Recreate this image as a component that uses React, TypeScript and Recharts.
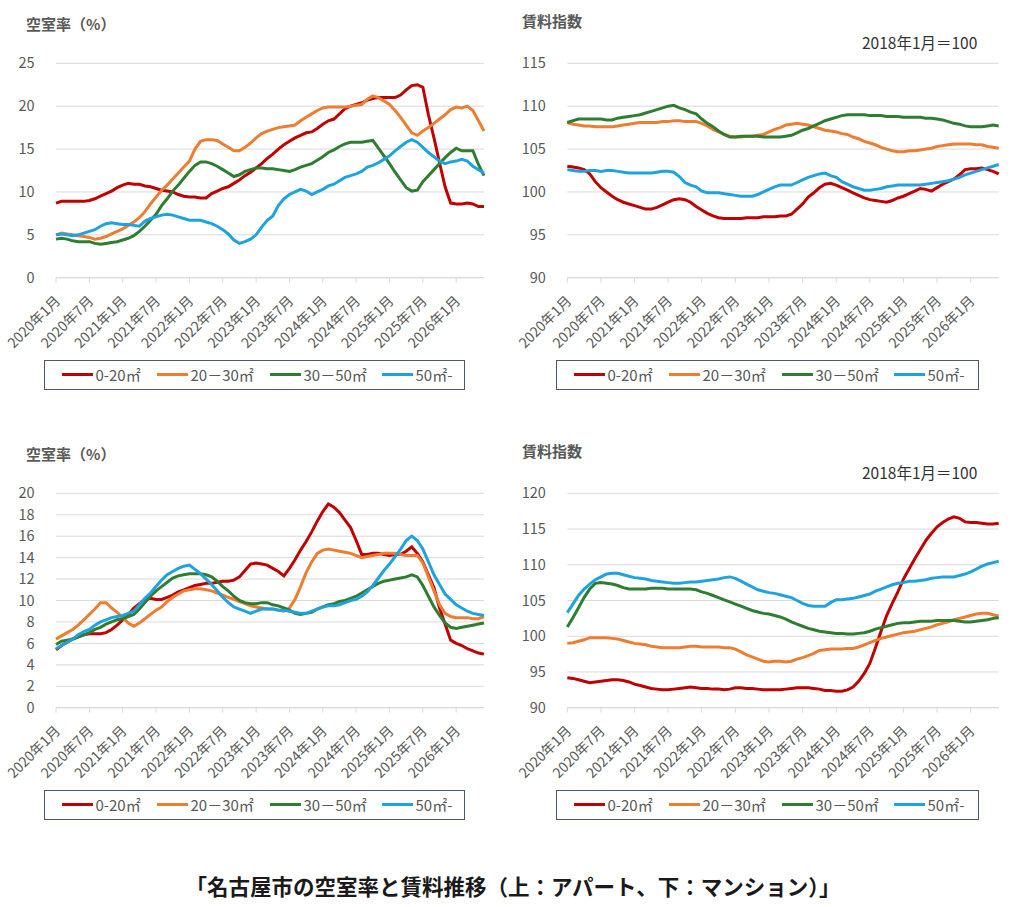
import React from 'react';
import { LineChart, Line, XAxis, YAxis, CartesianGrid } from 'recharts';

const FONT = "'Noto Sans CJK JP', 'Noto Sans', sans-serif";

// Categories: 2020年1月 ... 2026年6月 (78 months)
const YEARS = [2020, 2021, 2022, 2023, 2024, 2025, 2026];
const MONTH_NUMS = [1, 2, 3, 4, 5, 6, 7, 8, 9, 10, 11, 12];
const MONTHS: string[] = [];
YEARS.forEach((y) => MONTH_NUMS.forEach((m) => { if (MONTHS.length < 78) MONTHS.push(`${y}年${m}月`); }));

const SERIES_NAMES = ['0-20㎡', '20－30㎡', '30－50㎡', '50㎡-'];
const SERIES_COLORS = ['#C00000', '#ED7D31', '#2E7D32', '#1FA3DE'];

// アパート 空室率
const APT_VAC_0_20 = [
  8.7, 8.9, 8.9, 8.9, 8.9, 8.9, 9.0, 9.2, 9.5, 9.8, 10.1, 10.5,
  10.8, 11.0, 10.9, 10.9, 10.7, 10.6, 10.4, 10.2, 10.1, 10.0, 9.7, 9.5,
  9.4, 9.4, 9.3, 9.3, 9.8, 10.1, 10.4, 10.6, 11.0, 11.4, 11.9, 12.3,
  12.8, 13.3, 13.9, 14.4, 15.0, 15.5, 15.9, 16.3, 16.6, 16.9, 17.0, 17.4,
  17.9, 18.3, 18.5, 19.1, 19.7, 20.0, 20.2, 20.4, 20.7, 20.9, 21.0, 21.0,
  21.0, 21.0, 21.3, 21.9, 22.4, 22.5, 22.2, 19.0, 16.3, 13.4, 10.6, 8.7,
  8.6, 8.6, 8.7, 8.6, 8.3, 8.3,
];
const APT_VAC_20_30 = [
  5.0, 5.2, 5.1, 5.0, 4.9, 4.8, 4.7, 4.5, 4.6, 4.8, 5.1, 5.4,
  5.7, 6.1, 6.5, 7.0, 7.7, 8.6, 9.4, 10.2, 10.8, 11.5, 12.2, 12.9,
  13.6, 15.0, 15.9, 16.1, 16.1, 16.0, 15.6, 15.2, 14.8, 14.8, 15.2, 15.7,
  16.3, 16.8, 17.1, 17.3, 17.5, 17.6, 17.7, 17.8, 18.3, 18.7, 19.1, 19.5,
  19.8, 19.9, 19.9, 19.9, 19.9, 20.0, 20.1, 20.2, 20.8, 21.2, 21.0, 20.6,
  20.2, 19.5, 18.7, 17.8, 16.9, 16.6, 17.1, 17.5, 18.0, 18.5, 19.0, 19.6,
  19.9, 19.8, 20.0, 19.5, 18.3, 17.1,
];
const APT_VAC_30_50 = [
  4.5, 4.6, 4.5, 4.3, 4.2, 4.2, 4.2, 4.0, 3.9, 4.0, 4.1, 4.2,
  4.4, 4.6, 4.9, 5.4, 6.0, 6.7, 7.4, 8.4, 9.2, 10.1, 10.8, 11.6,
  12.4, 13.1, 13.5, 13.5, 13.3, 13.0, 12.6, 12.2, 11.8, 12.0, 12.4, 12.6,
  12.8, 12.8, 12.7, 12.7, 12.6, 12.5, 12.4, 12.6, 12.9, 13.1, 13.3, 13.7,
  14.1, 14.6, 14.9, 15.3, 15.6, 15.8, 15.8, 15.8, 15.9, 16.0, 15.1, 14.2,
  13.3, 12.3, 11.4, 10.5, 10.1, 10.2, 11.2, 11.9, 12.6, 13.3, 14.0, 14.6,
  15.1, 14.8, 14.8, 14.8, 13.2, 11.9,
];
const APT_VAC_50 = [
  5.0, 5.1, 5.0, 4.9, 5.0, 5.2, 5.4, 5.6, 6.0, 6.3, 6.4, 6.3,
  6.2, 6.2, 6.1, 6.0, 6.6, 6.9, 7.1, 7.3, 7.4, 7.3, 7.1, 6.9,
  6.7, 6.7, 6.7, 6.5, 6.3, 6.0, 5.6, 5.1, 4.4, 4.0, 4.2, 4.5,
  5.0, 5.9, 6.7, 7.2, 8.4, 9.2, 9.7, 10.0, 10.3, 10.1, 9.7, 10.0,
  10.3, 10.7, 10.9, 11.3, 11.7, 11.9, 12.1, 12.4, 12.9, 13.1, 13.4, 13.8,
  14.2, 14.8, 15.3, 15.8, 16.1, 15.8, 15.2, 14.6, 14.1, 13.6, 13.3, 13.5,
  13.6, 13.8, 13.6, 13.0, 12.6, 12.2,
];

// アパート 賃料指数
const APT_RENT_0_20 = [
  103.0, 102.9, 102.8, 102.6, 102.1, 101.2, 100.5, 100.0, 99.5, 99.1, 98.8, 98.6,
  98.4, 98.2, 98.0, 98.0, 98.2, 98.5, 98.8, 99.1, 99.2, 99.1, 98.8, 98.3,
  97.9, 97.5, 97.2, 97.0, 96.9, 96.9, 96.9, 96.9, 97.0, 97.0, 97.0, 97.1,
  97.1, 97.1, 97.2, 97.2, 97.4, 98.0, 98.6, 99.4, 99.9, 100.5, 100.9, 101.0,
  100.8, 100.5, 100.2, 99.9, 99.6, 99.3, 99.1, 99.0, 98.9, 98.8, 99.0, 99.3,
  99.5, 99.8, 100.1, 100.4, 100.3, 100.1, 100.5, 100.9, 101.2, 101.5, 102.0, 102.6,
  102.7, 102.7, 102.8, 102.6, 102.4, 102.1,
];
const APT_RENT_20_30 = [
  108.1, 107.9, 107.8, 107.7, 107.7, 107.6, 107.6, 107.6, 107.6, 107.7, 107.8, 107.9,
  108.0, 108.1, 108.1, 108.1, 108.1, 108.2, 108.2, 108.3, 108.3, 108.2, 108.2, 108.2,
  108.0, 107.7, 107.3, 107.0, 106.7, 106.5, 106.4, 106.4, 106.5, 106.5, 106.6, 106.7,
  107.0, 107.3, 107.5, 107.8, 107.9, 108.0, 107.9, 107.8, 107.6, 107.4, 107.2, 107.1,
  107.0, 106.8, 106.7, 106.4, 106.2, 105.9, 105.7, 105.5, 105.2, 105.0, 104.8, 104.7,
  104.7, 104.8, 104.8, 104.9, 105.0, 105.1, 105.3, 105.4, 105.5, 105.6, 105.6, 105.6,
  105.6, 105.5, 105.5, 105.3, 105.2, 105.1,
];
const APT_RENT_30_50 = [
  108.1, 108.3, 108.5, 108.5, 108.5, 108.5, 108.5, 108.4, 108.4, 108.6, 108.7, 108.8,
  108.9, 109.0, 109.2, 109.4, 109.6, 109.8, 110.0, 110.1, 109.8, 109.6, 109.3, 109.1,
  108.5, 108.0, 107.6, 107.1, 106.7, 106.4, 106.4, 106.5, 106.5, 106.5, 106.5, 106.4,
  106.4, 106.4, 106.4, 106.5, 106.6, 106.9, 107.2, 107.4, 107.7, 108.0, 108.3, 108.5,
  108.7, 108.9, 109.0, 109.0, 109.0, 109.0, 108.9, 108.9, 108.9, 108.8, 108.8, 108.8,
  108.7, 108.7, 108.7, 108.7, 108.6, 108.6, 108.5, 108.4, 108.2, 108.0, 107.9, 107.7,
  107.6, 107.6, 107.6, 107.7, 107.8, 107.7,
];
const APT_RENT_50 = [
  102.6, 102.5, 102.4, 102.4, 102.5, 102.5, 102.4, 102.5, 102.5, 102.4, 102.3, 102.2,
  102.2, 102.2, 102.2, 102.2, 102.3, 102.4, 102.4, 102.3, 101.8, 101.1, 100.8, 100.6,
  100.1, 99.9, 99.9, 99.9, 99.8, 99.7, 99.6, 99.5, 99.5, 99.5, 99.7, 100.0,
  100.3, 100.6, 100.8, 100.8, 100.8, 101.1, 101.4, 101.7, 101.9, 102.1, 102.2, 101.9,
  101.7, 101.2, 100.9, 100.6, 100.4, 100.2, 100.2, 100.3, 100.4, 100.6, 100.7, 100.8,
  100.8, 100.8, 100.8, 100.8, 100.9, 101.0, 101.1, 101.2, 101.3, 101.5, 101.7, 102.0,
  102.2, 102.4, 102.6, 102.8, 103.0, 103.2,
];

// マンション 空室率
const MAN_VAC_0_20 = [
  5.4, 5.8, 6.1, 6.4, 6.6, 6.8, 6.9, 6.9, 6.9, 7.0, 7.3, 7.7,
  8.2, 8.7, 9.3, 9.7, 10.1, 10.2, 10.1, 10.1, 10.3, 10.5, 10.8, 11.0,
  11.2, 11.4, 11.5, 11.6, 11.6, 11.7, 11.8, 11.8, 11.9, 12.2, 12.8, 13.4,
  13.5, 13.4, 13.3, 13.0, 12.7, 12.3, 13.0, 13.8, 14.7, 15.5, 16.4, 17.4,
  18.3, 19.0, 18.7, 18.2, 17.5, 16.8, 15.6, 14.3, 14.3, 14.4, 14.4, 14.3,
  14.2, 14.3, 14.3, 14.6, 15.0, 14.4, 13.6, 12.4, 11.2, 9.3, 7.8, 6.3,
  6.0, 5.8, 5.5, 5.3, 5.1, 5.0,
];
const MAN_VAC_20_30 = [
  6.4, 6.7, 7.0, 7.3, 7.7, 8.2, 8.7, 9.2, 9.8, 9.8, 9.3, 8.9,
  8.4, 7.9, 7.6, 7.9, 8.3, 8.7, 9.1, 9.4, 9.9, 10.3, 10.6, 10.9,
  11.0, 11.1, 11.1, 11.0, 10.9, 10.7, 10.5, 10.3, 10.1, 9.9, 9.7, 9.5,
  9.4, 9.3, 9.2, 9.2, 9.1, 9.0, 9.3, 10.1, 11.3, 12.6, 13.6, 14.4,
  14.7, 14.8, 14.7, 14.6, 14.5, 14.4, 14.2, 14.0, 14.1, 14.2, 14.3, 14.4,
  14.4, 14.4, 14.3, 14.2, 14.2, 14.2, 13.5, 12.2, 10.9, 9.6, 8.8, 8.5,
  8.4, 8.4, 8.4, 8.3, 8.3, 8.5,
];
const MAN_VAC_30_50 = [
  5.9, 6.2, 6.3, 6.4, 6.6, 6.8, 7.0, 7.3, 7.5, 7.8, 8.0, 8.2,
  8.3, 8.5, 8.7, 9.2, 9.8, 10.4, 10.9, 11.3, 11.7, 12.1, 12.3, 12.4,
  12.5, 12.5, 12.5, 12.4, 12.2, 11.8, 11.3, 10.9, 10.4, 10.0, 9.8, 9.7,
  9.7, 9.8, 9.8, 9.6, 9.5, 9.3, 9.1, 8.8, 8.7, 8.8, 8.9, 9.2,
  9.4, 9.6, 9.7, 9.9, 10.0, 10.2, 10.4, 10.7, 11.0, 11.3, 11.6, 11.8,
  11.9, 12.0, 12.1, 12.2, 12.4, 12.2, 11.4, 10.4, 9.4, 8.6, 7.9, 7.5,
  7.4, 7.5, 7.6, 7.7, 7.8, 7.9,
];
const MAN_VAC_50 = [
  5.5, 5.8, 6.1, 6.4, 6.8, 7.1, 7.3, 7.7, 8.0, 8.2, 8.4, 8.5,
  8.6, 8.8, 9.0, 9.6, 10.2, 10.7, 11.3, 11.9, 12.4, 12.7, 13.0, 13.2,
  13.3, 12.9, 12.5, 12.0, 11.5, 10.9, 10.3, 9.8, 9.4, 9.2, 9.0, 8.8,
  9.0, 9.2, 9.2, 9.2, 9.1, 9.1, 9.0, 8.9, 8.8, 8.8, 9.0, 9.2,
  9.4, 9.5, 9.5, 9.6, 9.8, 10.0, 10.1, 10.4, 10.8, 11.4, 12.1, 12.8,
  13.4, 14.1, 14.8, 15.6, 16.0, 15.6, 14.8, 13.6, 12.4, 11.5, 10.6, 10.1,
  9.6, 9.3, 9.0, 8.8, 8.7, 8.6,
];

// マンション 賃料指数
const MAN_RENT_0_20 = [
  94.2, 94.1, 93.9, 93.7, 93.5, 93.6, 93.7, 93.8, 93.9, 93.9, 93.8, 93.6,
  93.3, 93.1, 92.9, 92.7, 92.6, 92.5, 92.5, 92.6, 92.7, 92.8, 92.9, 92.8,
  92.7, 92.7, 92.6, 92.6, 92.5, 92.6, 92.8, 92.8, 92.7, 92.7, 92.6, 92.5,
  92.5, 92.5, 92.5, 92.6, 92.7, 92.8, 92.8, 92.8, 92.7, 92.6, 92.4, 92.4,
  92.3, 92.3, 92.5, 92.9, 93.7, 94.8, 96.2, 98.4, 100.7, 102.9, 104.6, 106.2,
  108.0, 109.4, 110.8, 112.1, 113.4, 114.4, 115.3, 115.9, 116.4, 116.7, 116.5, 116.0,
  115.9, 115.9, 115.8, 115.7, 115.7, 115.8,
];
const MAN_RENT_20_30 = [
  99.0, 99.1, 99.3, 99.5, 99.8, 99.8, 99.8, 99.8, 99.7, 99.6, 99.4, 99.2,
  99.0, 98.9, 98.8, 98.6, 98.5, 98.4, 98.4, 98.4, 98.4, 98.5, 98.6, 98.6,
  98.5, 98.5, 98.5, 98.5, 98.4, 98.4, 98.2, 97.8, 97.4, 97.1, 96.8, 96.5,
  96.4, 96.5, 96.5, 96.4, 96.5, 96.8, 97.0, 97.3, 97.6, 98.0, 98.1, 98.2,
  98.2, 98.2, 98.3, 98.3, 98.5, 98.8, 99.1, 99.4, 99.7, 99.9, 100.1, 100.3,
  100.5, 100.6, 100.7, 100.9, 101.1, 101.3, 101.6, 101.8, 102.0, 102.3, 102.5, 102.7,
  102.9, 103.1, 103.2, 103.2, 103.0, 102.8,
];
const MAN_RENT_30_50 = [
  101.3, 102.6, 104.0, 105.4, 106.6, 107.4, 107.5, 107.4, 107.3, 107.1, 106.8, 106.6,
  106.6, 106.6, 106.6, 106.7, 106.7, 106.7, 106.6, 106.6, 106.6, 106.6, 106.6, 106.5,
  106.2, 106.0, 105.7, 105.4, 105.1, 104.8, 104.5, 104.2, 103.9, 103.6, 103.4, 103.2,
  103.1, 102.9, 102.7, 102.4, 102.0, 101.7, 101.4, 101.1, 100.9, 100.7, 100.6, 100.5,
  100.4, 100.4, 100.3, 100.3, 100.4, 100.5, 100.7, 101.0, 101.2, 101.4, 101.6, 101.8,
  101.9, 101.9, 102.0, 102.1, 102.1, 102.1, 102.2, 102.2, 102.2, 102.2, 102.1, 102.0,
  102.0, 102.1, 102.2, 102.3, 102.5, 102.6,
];
const MAN_RENT_50 = [
  103.3, 104.5, 105.7, 106.6, 107.3, 107.9, 108.3, 108.7, 108.8, 108.8, 108.6, 108.4,
  108.2, 108.1, 108.0, 107.8, 107.7, 107.6, 107.5, 107.4, 107.4, 107.5, 107.6, 107.6,
  107.7, 107.8, 107.9, 108.0, 108.2, 108.3, 108.1, 107.7, 107.3, 106.9, 106.5, 106.3,
  106.1, 106.0, 105.8, 105.6, 105.4, 105.0, 104.6, 104.3, 104.2, 104.2, 104.2, 104.7,
  105.1, 105.1, 105.2, 105.3, 105.5, 105.7, 105.9, 106.3, 106.6, 106.9, 107.2, 107.4,
  107.5, 107.7, 107.7, 107.8, 107.9, 108.1, 108.2, 108.3, 108.3, 108.3, 108.5, 108.7,
  109.0, 109.4, 109.8, 110.1, 110.3, 110.5,
];

// Axis ticks
const APT_VAC_TICKS = [0, 5, 10, 15, 20, 25];
const APT_RENT_TICKS = [90, 95, 100, 105, 110, 115];
const MAN_VAC_TICKS = [0, 2, 4, 6, 8, 10, 12, 14, 16, 18, 20];
const MAN_RENT_TICKS = [90, 95, 100, 105, 110, 115, 120];

const TITLE_VAC = '空室率（%）';
const TITLE_RENT = '賃料指数';
const BASE_NOTE = '2018年1月＝100';
const CAPTION = '「名古屋市の空室率と賃料推移（上：アパート、下：マンション）」';

const LEGEND_OFFSETS = [18, 113, 226, 338];

function XTick(props: any) {
  const { x, y, payload } = props;
  return (
    <g transform={`translate(${x - 2},${y + 10})`}>
      <text
        transform="rotate(-45)"
        textAnchor="end"
        dy="0.71em"
        fontSize={14}
        fill="#595959"
        fontFamily={FONT}
      >
        {payload.value}
      </text>
    </g>
  );
}

type PanelProps = {
  left: number;
  top: number;
  width: number;
  marginLeft: number;
  marginRight: number;
  series: number[][];
  ticks: number[];
};

function Panel({ left, top, width, marginLeft, marginRight, series, ticks }: PanelProps) {
  const rows = MONTHS.map((m, i) => {
    const r: any = { m };
    series.forEach((s, k) => {
      r['s' + k] = s[i];
    });
    return r;
  });
  return (
    <div style={{ position: 'absolute', left, top }}>
      <LineChart
        width={width}
        height={360}
        data={rows}
        margin={{ top: 63.3, right: marginRight, bottom: 12.3, left: marginLeft }}
      >
        <CartesianGrid vertical={false} stroke="#D9D9D9" strokeWidth={1} />
        <XAxis
          dataKey="m"
          interval={5}
          height={70}
          tickSize={5}
          tickMargin={2}
          axisLine={{ stroke: '#D9D9D9', strokeWidth: 1 }}
          tickLine={{ stroke: '#D9D9D9', strokeWidth: 1 }}
          tick={XTick}
        />
        <YAxis
          type="number"
          domain={[ticks[0], ticks[ticks.length - 1]]}
          ticks={ticks}
          interval={0}
          width={50}
          axisLine={false}
          tickLine={false}
          tickSize={0}
          tickMargin={21.5}
          tick={{ fontSize: 14.5, fill: '#595959', fontFamily: FONT }}
        />
        {series.map((s, k) => (
          <Line
            key={k}
            dataKey={'s' + k}
            name={SERIES_NAMES[k]}
            type="linear"
            stroke={SERIES_COLORS[k]}
            strokeWidth={3}
            dot={false}
            activeDot={false}
            isAnimationActive={false}
          />
        ))}
      </LineChart>
    </div>
  );
}

function LegendBox({ left, top, width }: { left: number; top: number; width: number }) {
  return (
    <div
      style={{
        position: 'absolute',
        left,
        top,
        width,
        height: 30,
        border: '1.5px solid #4A5A6E',
        boxSizing: 'border-box',
      }}
    >
      {SERIES_NAMES.map((n, k) => (
        <div
          key={k}
          style={{
            position: 'absolute',
            left: LEGEND_OFFSETS[k] - 1.5,
            top: 0,
            height: 27,
            display: 'flex',
            alignItems: 'center',
            whiteSpace: 'nowrap',
          }}
        >
          <span style={{ display: 'inline-block', width: 31, height: 3.5, background: SERIES_COLORS[k] }} />
          <span style={{ marginLeft: 3, fontSize: 15, color: '#595959', fontFamily: FONT, lineHeight: '27px' }}>
            {n}
          </span>
        </div>
      ))}
    </div>
  );
}

export default function App() {
  return (
    <div
      style={{
        position: 'absolute',
        left: 0,
        top: 0,
        width: 1024,
        height: 907,
        background: '#FFFFFF',
        fontFamily: FONT,
        overflow: 'hidden',
      }}
    >
      <svg width={1024} height={907} style={{ position: 'absolute', left: 0, top: 0 }}>
        <g fontFamily={FONT}>
          <text x={26} y={30} fontSize={15} fontWeight="bold" fill="#595959">{TITLE_VAC}</text>
          <text x={522} y={27} fontSize={15} fontWeight="bold" fill="#595959">{TITLE_RENT}</text>
          <text x={862} y={49} fontSize={15.5} fill="#333333">{BASE_NOTE}</text>
          <text x={26} y={460} fontSize={15} fontWeight="bold" fill="#595959">{TITLE_VAC}</text>
          <text x={522} y={457} fontSize={15} fontWeight="bold" fill="#595959">{TITLE_RENT}</text>
          <text x={862} y={479} fontSize={15.5} fill="#333333">{BASE_NOTE}</text>
          <text x={513} y={895} fontSize={21.5} fontWeight="bold" fill="#1A1A1A" textAnchor="middle">{CAPTION}</text>
        </g>
      </svg>

      <Panel left={0} top={0} width={500} marginLeft={6} marginRight={16}
        series={[APT_VAC_0_20, APT_VAC_20_30, APT_VAC_30_50, APT_VAC_50]} ticks={APT_VAC_TICKS} />
      <Panel left={510} top={0} width={514} marginLeft={7.3} marginRight={25.3}
        series={[APT_RENT_0_20, APT_RENT_20_30, APT_RENT_30_50, APT_RENT_50]} ticks={APT_RENT_TICKS} />
      <Panel left={0} top={430} width={500} marginLeft={6} marginRight={16}
        series={[MAN_VAC_0_20, MAN_VAC_20_30, MAN_VAC_30_50, MAN_VAC_50]} ticks={MAN_VAC_TICKS} />
      <Panel left={510} top={430} width={514} marginLeft={7.3} marginRight={25.3}
        series={[MAN_RENT_0_20, MAN_RENT_20_30, MAN_RENT_30_50, MAN_RENT_50]} ticks={MAN_RENT_TICKS} />

      <LegendBox left={44} top={360} width={421} />
      <LegendBox left={556} top={360} width={423} />
      <LegendBox left={44} top={790} width={421} />
      <LegendBox left={556} top={790} width={423} />
    </div>
  );
}
